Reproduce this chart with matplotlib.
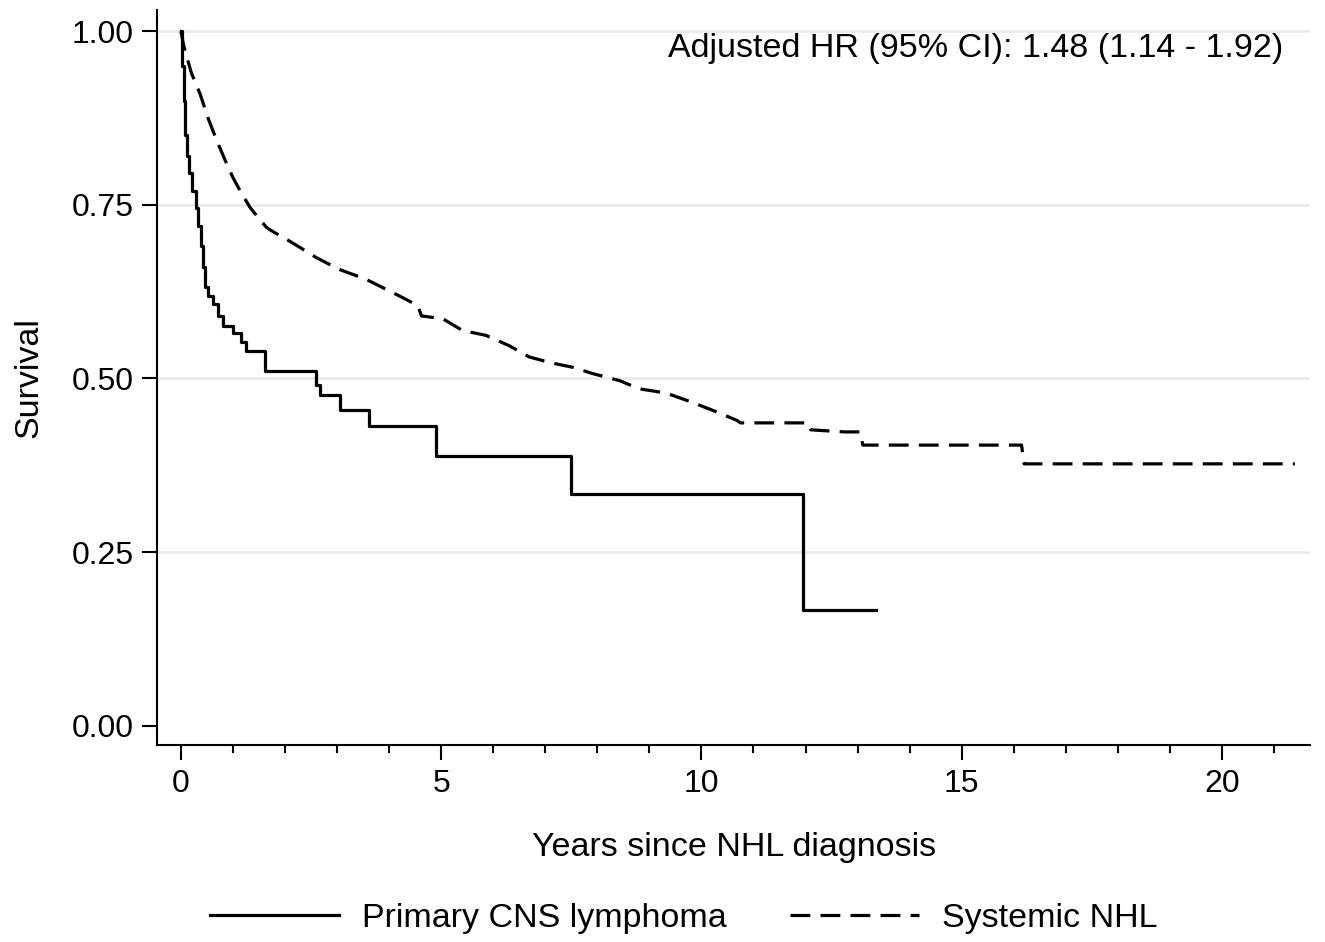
import numpy as np
import matplotlib.pyplot as plt
from matplotlib.ticker import MultipleLocator

plt.rcParams['font.family'] = ['Liberation Sans', 'DejaVu Sans']

# Kaplan-Meier estimates (years, survival)
cns_t = [0, 0.02, 0.05, 0.08, 0.12, 0.16, 0.22, 0.28, 0.33, 0.38, 0.42, 0.46,
         0.52, 0.62, 0.72, 0.80, 1.00, 1.15, 1.25, 1.62, 2.60, 2.68, 3.05,
         3.62, 4.90, 7.50, 11.95, 13.35]
cns_s = [1.0, 0.95, 0.90, 0.85, 0.82, 0.796, 0.77, 0.745, 0.72, 0.69, 0.66,
         0.631, 0.619, 0.607, 0.59, 0.576, 0.565, 0.552, 0.540, 0.511, 0.49,
         0.476, 0.455, 0.432, 0.389, 0.333, 0.167, 0.167]

# systemic NHL: many events, drawn as a joined curve with the larger steps kept
sys_t = [0, 0.05, 0.10, 0.20, 0.37, 0.53, 0.69, 0.85, 1.00, 1.16, 1.33, 1.50,
         1.65, 1.80, 1.97, 2.30, 2.60, 3.04, 3.55, 4.19, 4.50, 4.55, 4.62,
         5.03, 5.41, 5.86, 6.31, 6.69, 7.08, 7.53, 7.91, 8.42, 8.81, 9.32,
         9.77, 10.22, 10.67, 10.75, 11.90, 12.05, 12.10, 12.75, 13.05, 13.10,
         16.15, 16.20, 21.40]
sys_s = [1.0, 0.98, 0.966, 0.94, 0.909, 0.873, 0.842, 0.814, 0.789, 0.767,
         0.746, 0.73, 0.717, 0.71, 0.703, 0.688, 0.674, 0.657, 0.643, 0.619,
         0.607, 0.605, 0.59, 0.586, 0.569, 0.562, 0.547, 0.531, 0.523, 0.516,
         0.507, 0.497, 0.485, 0.479, 0.467, 0.454, 0.44, 0.436, 0.436, 0.436,
         0.426, 0.423, 0.423, 0.404, 0.404, 0.377, 0.377]

labels = ['Primary CNS lymphoma', 'Systemic NHL']
hr_text = 'Adjusted HR (95% CI): 1.48 (1.14 - 1.92)'

fig = plt.figure(figsize=(13.25, 9.42), dpi=100)
ax = fig.add_axes([0.1185, 0.209, 0.8705, 0.78])

ax.plot(cns_t, cns_s, drawstyle='steps-post', color='black', lw=2.3,
        label=labels[0])
ax.plot(sys_t, sys_s, color='black', lw=2.3,
        linestyle=(0, (6.2, 3.2)), label=labels[1])

ax.set_xlim(-0.46, 21.7)
ax.set_ylim(-0.028, 1.03)
ax.set_yticks([0, 0.25, 0.5, 0.75, 1.0])
ax.set_yticklabels(['0.00', '0.25', '0.50', '0.75', '1.00'])
ax.set_xticks([0, 5, 10, 15, 20])
ax.xaxis.set_minor_locator(MultipleLocator(1))

for y in [0.25, 0.5, 0.75, 1.0]:
    ax.axhline(y, color='#eaeaea', lw=2, zorder=0)

for side in ['top', 'right']:
    ax.spines[side].set_visible(False)
for side in ['left', 'bottom']:
    ax.spines[side].set_linewidth(1.5)

ax.tick_params(axis='both', which='major', labelsize=23, width=1.5,
               length=11, pad=6)
ax.tick_params(axis='x', which='minor', width=1.5, length=6)

ax.set_xlabel('Years since NHL diagnosis', fontsize=24.5, labelpad=24)
ax.set_ylabel('Survival', fontsize=24.5, labelpad=19)

ax.text(0.9766, 0.948, hr_text, transform=ax.transAxes, ha='right',
        va='center', fontsize=24.5)

fig.legend(loc='lower center', bbox_to_anchor=(0.516, -0.024), ncol=2,
           frameon=False, fontsize=24.5, handlelength=3.8, handletextpad=0.68,
           columnspacing=1.85)

fig.savefig('out.png', dpi=100)
